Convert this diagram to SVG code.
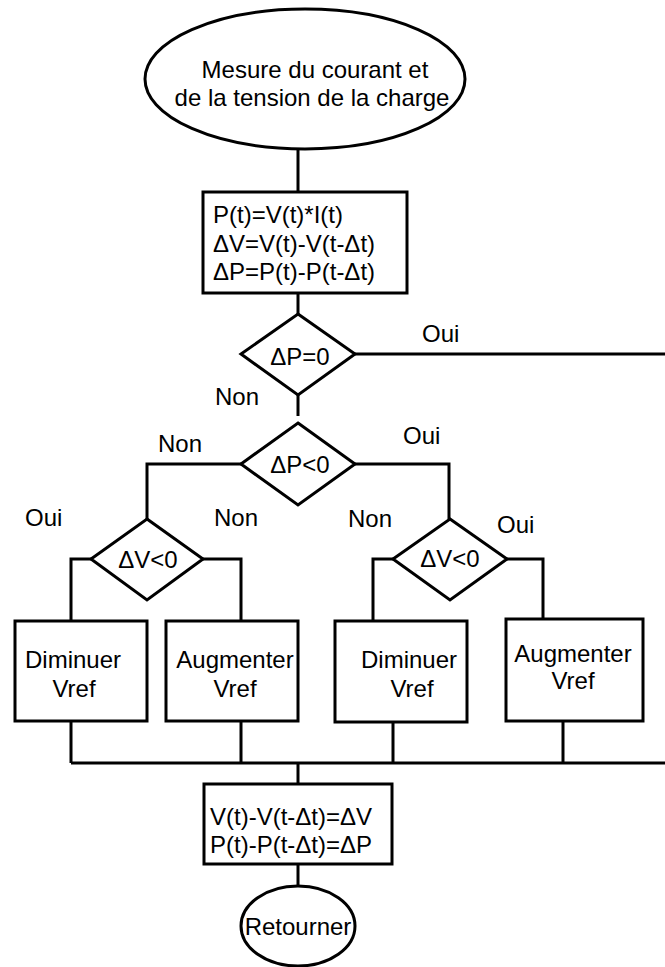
<svg xmlns="http://www.w3.org/2000/svg" width="665" height="967" viewBox="0 0 665 967">
<style>
.s{fill:#fff;stroke:#000;stroke-width:3}
.c{fill:none;stroke:#000;stroke-width:3}
text{font-family:"Liberation Sans",Arial,sans-serif;font-size:24px;fill:#000}
.m{text-anchor:middle}
</style>
<rect width="665" height="967" fill="#fff"/>
<g id="connectors">
<path class="c" d="M298 149V192"/>
<path class="c" d="M298 293V314"/>
<path class="c" d="M355 354H665"/>
<path class="c" d="M298 395V416"/>
<path class="c" d="M241 464H147V519"/>
<path class="c" d="M355 464H449V519"/>
<path class="c" d="M91 559H71V622"/>
<path class="c" d="M203 559H241V621"/>
<path class="c" d="M393 559H373V621"/>
<path class="c" d="M507 559H543V619"/>
<path class="c" d="M71 721V763M241 721V763M393 722V763M563 721V763"/>
<path class="c" d="M71 763H665"/>
<path class="c" d="M298 763V784"/>
<path class="c" d="M298 864V886"/>
<text x="422" y="342">Oui</text>
<text x="215" y="405">Non</text>
<text x="158" y="452">Non</text>
<text x="403" y="444">Oui</text>
<text x="25" y="526">Oui</text>
<text x="214" y="526">Non</text>
<text x="348" y="527">Non</text>
<text x="497" y="533">Oui</text>
</g>
<g id="start">
<ellipse class="s" cx="305" cy="79" rx="160" ry="70"/>
<text class="m" x="315" y="78">Mesure du courant et</text>
<text class="m" x="312" y="106">de la tension de la charge</text>
</g>
<g id="compute">
<rect class="s" x="203" y="192" width="204" height="101"/>
<text x="213" y="223">P(t)=V(t)*I(t)</text>
<text x="213" y="252">ΔV=V(t)-V(t-Δt)</text>
<text x="213" y="280">ΔP=P(t)-P(t-Δt)</text>
</g>
<g id="dec1">
<polygon class="s" points="298,314 355,354 298,395 241,354"/>
<text class="m" x="300" y="365">ΔP=0</text>
</g>
<g id="dec2">
<polygon class="s" points="298,423 355,464 298,505 241,464"/>
<text class="m" x="300" y="473">ΔP&lt;0</text>
</g>
<g id="dec3">
<polygon class="s" points="147,519 203,559 147,600 91,559"/>
<text class="m" x="148" y="568">ΔV&lt;0</text>
</g>
<g id="dec4">
<polygon class="s" points="450,519 507,559 450,600 393,559"/>
<text class="m" x="450" y="567">ΔV&lt;0</text>
</g>
<g id="boxA">
<rect class="s" x="15" y="621" width="132" height="100"/>
<text class="m" x="73" y="668">Diminuer</text>
<text class="m" x="74" y="697">Vref</text>
</g>
<g id="boxB">
<rect class="s" x="166" y="621" width="132" height="100"/>
<text class="m" x="235" y="668">Augmenter</text>
<text class="m" x="235" y="697">Vref</text>
</g>
<g id="boxC">
<rect class="s" x="335" y="621" width="132" height="101"/>
<text class="m" x="409" y="668">Diminuer</text>
<text class="m" x="412" y="697">Vref</text>
</g>
<g id="boxD">
<rect class="s" x="506" y="619" width="137" height="102"/>
<text class="m" x="573" y="662">Augmenter</text>
<text class="m" x="573" y="689">Vref</text>
</g>
<g id="update">
<rect class="s" x="204" y="784" width="188" height="80"/>
<text x="210" y="825">V(t)-V(t-Δt)=ΔV</text>
<text x="210" y="853">P(t)-P(t-Δt)=ΔP</text>
</g>
<g id="end">
<ellipse class="s" cx="298" cy="926" rx="57" ry="40"/>
<text class="m" x="298" y="935">Retourner</text>
</g>
</svg>
